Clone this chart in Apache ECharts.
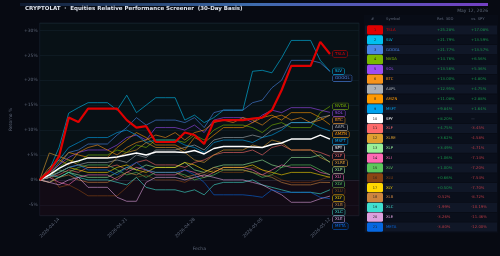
<!DOCTYPE html>
<html>
<head>
<meta charset="utf-8">
<script src="https://cdn.jsdelivr.net/npm/echarts@6/dist/echarts.min.js"></script>
<style>
  html, body { margin: 0; padding: 0; background: #070a12; }
  #chart { width: 500px; height: 256px; }
</style>
</head>
<body>
<div id="chart"></div>
<script>
// fechas (dias naturales, fines de semana con el ultimo cierre)
var dates = ['2026-04-12','2026-04-13','2026-04-14','2026-04-15','2026-04-16','2026-04-17','2026-04-18','2026-04-19',
  '2026-04-20','2026-04-21','2026-04-22','2026-04-23','2026-04-24','2026-04-25','2026-04-26',
  '2026-04-27','2026-04-28','2026-04-29','2026-04-30','2026-05-01','2026-05-02','2026-05-03',
  '2026-05-04','2026-05-05','2026-05-06','2026-05-07','2026-05-08','2026-05-09','2026-05-10',
  '2026-05-11','2026-05-12','2026-05-13','2026-05-14','2026-05-15'];

var symbols = ['TSLA','SLV','GOOGL','NVDA','SOL','BTC','AAPL','AMZN','MSFT','SPY',
  'XLF','XLRE','XLP','XLI','XLV','XLU','XLY','XLB','XLC','XLE','META'];
var colors = ['#e00000','#00c0f0','#4a86e8','#7ab800','#9d4cf5','#f7931a','#aab0b6','#ff9900','#00a4ef','#ffffff',
  '#ff6b6b','#e0a030','#98f098','#ff69b4','#5cc85c','#8b4513','#ffd700','#cd853f','#40e0d0','#dda0dd','#0668e1'];

// rendimiento acumulado (%) por simbolo
var tsla  = [0,1.7,4.7,12.5,11.6,14.3,14.3,14.3,14.3,12.0,10.5,10.8,7.6,7.6,7.6,9.5,9.0,7.2,11.8,12.0,12.0,12.0,12.3,12.5,14.0,18.0,22.9,22.9,22.9,27.7,25.28];
var slv   = [0,2.0,6.5,13.4,14.5,15.5,15.5,15.5,14.0,17.0,13.5,15.0,16.5,16.5,16.5,12.0,13.0,11.5,12.5,14.0,14.0,14.0,21.8,22.0,21.5,24.5,28.0,28.0,28.0,24.0,21.79];
var googl = [0,1.0,3.0,5.5,6.0,7.2,7.2,7.2,9.0,10.5,12.5,11.0,12.0,12.0,12.0,11.5,12.5,10.5,13.5,14.0,14.0,14.0,15.5,16.0,18.5,20.0,24.0,24.0,24.0,23.5,21.77];
var nvda  = [0,0.5,2.5,4.0,3.5,5.0,5.0,5.0,6.0,5.5,7.0,6.5,8.0,8.0,8.0,7.5,9.0,8.0,10.0,11.0,11.0,11.0,10.5,9.5,11.0,11.5,10.5,10.5,10.5,13.5,14.76];
var sol   = [0,1.5,3.0,4.5,5.5,6.0,6.0,6.0,7.0,8.5,9.0,8.0,10.5,10.5,10.5,10.0,11.0,9.5,12.0,12.5,12.5,12.5,11.5,13.0,14.0,13.5,14.5,14.5,14.5,14.0,13.56];
var btc   = [0,2.5,4.0,3.0,5.5,6.5,7.0,6.0,5.0,6.5,7.5,8.0,9.0,8.5,9.5,8.0,9.5,10.0,11.5,12.0,11.5,12.5,12.0,11.0,12.5,13.0,12.0,12.5,11.5,12.0,13.00];
var aapl  = [0,0.8,1.5,2.5,3.0,3.5,3.5,3.5,4.0,3.5,5.0,4.5,6.0,6.0,6.0,6.5,7.0,6.0,8.0,8.5,8.5,8.5,9.0,8.5,10.0,10.5,11.5,11.5,11.5,12.5,12.95];
var amzn  = [0,1.0,3.5,5.5,5.0,4.5,4.5,4.5,6.5,8.0,9.5,8.5,7.0,7.0,7.0,6.0,8.5,7.5,9.0,10.5,10.5,10.5,11.5,12.5,13.0,12.0,13.5,13.5,13.5,12.5,11.08];
var msft  = [0,1.5,4.0,6.5,7.5,8.5,8.5,8.5,9.5,10.0,9.0,7.5,8.0,8.0,8.0,7.0,6.5,5.5,7.5,8.0,8.0,8.0,7.5,8.5,9.0,10.0,11.5,11.5,11.5,10.5,9.84];
var spy   = [0,1.0,2.3,3.3,3.8,4.4,4.4,4.4,4.6,5.0,5.4,5.0,5.6,5.6,5.6,5.5,5.9,5.2,6.3,6.7,6.7,6.7,6.6,6.5,7.1,7.4,8.2,8.2,8.2,9.0,8.20];
var xlf   = [0,0.5,1.0,2.0,1.5,2.5,2.5,2.5,3.0,2.0,3.5,4.0,3.0,3.0,3.0,2.5,3.5,4.0,5.0,5.5,5.5,5.5,6.0,5.0,6.5,7.0,6.0,6.0,6.0,5.5,4.75];
var xlre  = [0,5.4,4.7,4.0,3.0,2.5,2.5,2.5,4.5,5.5,6.0,7.5,6.5,6.5,6.5,5.5,4.0,3.5,5.0,6.0,6.0,6.0,7.0,6.5,8.0,7.5,6.0,6.0,6.0,4.5,3.62];
var xlp   = [0,-0.5,0.5,1.5,1.0,0.5,0.5,0.5,1.5,2.5,2.0,3.0,2.5,2.5,2.5,3.5,2.0,1.5,2.5,3.0,3.0,3.0,3.5,4.0,3.0,2.5,4.5,4.5,4.5,5.0,3.49];
var xli   = [0,0.5,-0.5,-1.0,0.5,1.0,1.0,1.0,0.0,1.5,2.5,2.0,1.0,1.0,1.0,2.0,1.5,0.5,1.5,2.5,2.5,2.5,2.0,1.0,2.0,3.0,2.5,2.5,2.5,1.5,1.06];
var xlv   = [0,1.0,2.0,1.5,2.5,3.0,3.0,3.0,2.0,1.0,1.5,0.5,1.5,1.5,1.5,1.0,0.0,0.5,1.0,2.0,2.0,2.0,1.5,0.5,1.0,2.5,3.0,3.0,3.0,2.0,1.00];
var xlu   = [0,1.5,-1.5,-1.0,-2.0,-3.2,-3.2,-3.2,-3.2,-1.5,0.5,1.0,0.0,0.0,0.0,-0.5,0.5,1.0,2.0,1.5,1.5,1.5,2.5,2.0,1.0,0.0,-0.5,-0.5,-0.5,0.0,0.66];
var xly   = [0,0.5,1.5,2.5,2.0,1.5,1.5,1.5,2.5,3.0,2.0,1.5,2.5,2.5,2.5,3.5,3.0,2.0,1.5,2.5,2.5,2.5,3.0,2.0,1.5,1.0,1.5,1.5,1.5,1.0,0.50];
var xlb   = [0,-0.5,0.5,1.0,0.0,-0.5,-0.5,-0.5,0.5,1.5,1.0,2.0,1.5,1.5,1.5,0.5,1.0,1.5,2.5,2.0,2.0,2.0,1.5,1.0,0.5,-0.5,-1.0,-1.0,-1.0,-0.5,-0.52];
var xlc   = [0,1.0,0.5,1.5,0.5,0.0,0.0,0.0,-0.5,-1.0,0.5,-1.5,-2.0,-2.0,-2.0,-2.5,-2.0,-3.0,-1.0,-0.5,-0.5,-0.5,0.0,-1.0,-1.5,-2.0,-2.5,-2.5,-2.5,-2.8,-1.99];
var xle   = [0,-0.5,-1.0,0.0,0.5,-1.5,-1.5,-1.5,-3.5,-4.3,-4.3,-0.5,0.5,0.5,0.5,0.0,0.5,1.0,0.5,0.0,0.0,0.0,-0.5,-1.0,-2.0,-3.0,-4.5,-4.5,-4.5,-3.8,-3.26];
var meta  = [0,0.5,1.5,2.5,3.0,2.0,2.0,2.0,1.0,2.5,3.5,2.0,1.5,1.5,1.5,2.0,1.0,-0.5,-3.0,-3.0,-3.0,-3.0,-3.2,-3.5,-2.0,-2.5,-2.5,-2.5,-2.5,-3.5,-3.80];
var returns = [tsla,slv,googl,nvda,sol,btc,aapl,amzn,msft,spy,xlf,xlre,xlp,xli,xlv,xlu,xly,xlb,xlc,xle,meta];

// tabla: rendimiento 30D y diferencia contra SPY
var ret30 = [25.28,21.79,21.77,14.76,13.56,13.00,12.95,11.08,9.84,8.20,4.75,3.62,3.49,1.06,1.00,0.66,0.50,-0.52,-1.99,-3.26,-3.80];
var vsSpy = [17.08,13.59,13.57,6.56,5.36,4.80,4.75,2.88,1.64,null,-3.45,-4.58,-4.71,-7.14,-7.20,-7.54,-7.70,-8.72,-10.19,-11.46,-12.00];

var yMin = -7.2, yMax = 31.5;
var FONT = 'DejaVu Sans';
var GREEN = '#17924a', RED = '#b83a44', MUTED = '#5d6678';

function pct(v) {
  return (v > 0 ? '+' : '') + v.toFixed(2) + '%';
}

var lineSeries = returns.map(function (vals, i) {
  var s = {
    name: symbols[i],
    type: 'line',
    xAxisIndex: 0,
    yAxisIndex: 0,
    data: vals,
    symbol: 'none',
    z: i === 0 ? 10 : (i === 9 ? 9 : 3),
    lineStyle: {
      color: colors[i],
      width: i === 0 ? 2.2 : (i === 9 ? 1.4 : 0.8),
      opacity: i === 0 || i === 9 ? 1 : 0.75
    },
    endLabel: {
      show: true,
      formatter: '{a}',
      color: colors[i],
      fontFamily: FONT,
      fontSize: 4,
      backgroundColor: '#0b0f1a',
      borderColor: colors[i],
      borderWidth: 0.5,
      borderRadius: 1,
      padding: [1, 2],
      distance: 3
    },
    labelLayout: { moveOverlap: 'shiftY' },
    emphasis: { disabled: true },
    silent: true
  };
  if (i === 0) {
    s.markArea = {
      silent: true,
      data: [
        [{ yAxis: 0, itemStyle: { color: 'rgba(20,70,60,0.12)' } }, { yAxis: yMax }],
        [{ yAxis: yMin, itemStyle: { color: 'rgba(80,20,35,0.16)' } }, { yAxis: 0 }]
      ]
    };
  }
  return s;
});

var rowIdx = symbols.map(function (s, i) { return [0, i]; });

function renderRow(params, api) {
  var i = params.dataIndex;
  var c = api.coord([0, i]);
  var h = api.size([0, 1])[1];
  var w = api.size([132, 0])[0];
  var x0 = c[0], y0 = c[1] - h / 2, yc = c[1];
  var rel = vsSpy[i];
  return {
    type: 'group',
    children: [
      { type: 'rect', shape: { x: x0, y: y0 + 0.4, width: w, height: h - 0.8 },
        style: { fill: i % 2 === 0 ? '#101727' : '#0a0f1b' } },
      { type: 'rect', shape: { x: x0 + 2, y: y0 + 0.3, width: 16, height: h - 0.6, r: 1.5 },
        style: { fill: colors[i] } },
      { type: 'text', style: { x: x0 + 10, y: yc, text: String(i + 1), fill: '#222',
        font: '3.5px ' + FONT, align: 'center', verticalAlign: 'middle' } },
      { type: 'text', style: { x: x0 + 21, y: yc, text: symbols[i], fill: colors[i],
        font: '3.8px ' + FONT, verticalAlign: 'middle' } },
      { type: 'text', style: { x: x0 + 72, y: yc, text: pct(ret30[i]), fill: ret30[i] >= 0 ? GREEN : RED,
        font: '3.8px ' + FONT, verticalAlign: 'middle' } },
      { type: 'text', style: { x: x0 + 106, y: yc, text: rel === null ? '—' : pct(rel),
        fill: rel === null ? MUTED : (rel >= 0 ? GREEN : RED),
        font: '3.8px ' + FONT, verticalAlign: 'middle' } }
    ]
  };
}

var chart = echarts.init(document.getElementById('chart'), null, { renderer: 'canvas' });
chart.setOption({
  backgroundColor: '#070a12',
  animation: false,
  textStyle: { fontFamily: FONT },
  title: [
    { text: 'CRYPTOLAT  ·  Equities Relative Performance Screener  (30-Day Basis)', left: 25, top: 6, padding: 0,
      textStyle: { color: '#dfe4ee', fontSize: 5.5, fontWeight: 'bold', fontFamily: FONT } },
    { text: 'May 12, 2026', right: 12, top: 8, padding: 0,
      textStyle: { color: MUTED, fontSize: 4.5, fontWeight: 'normal', fontFamily: FONT } }
  ],
  graphic: [
    { type: 'rect', left: 20, top: 3, shape: { width: 468, height: 3 },
      style: { fill: new echarts.graphic.LinearGradient(0, 0, 1, 0, [
        { offset: 0, color: '#0e1a30' }, { offset: 0.5, color: '#3e6cae' }, { offset: 1, color: '#7440c4' }]) } },
    { type: 'rect', left: 364, top: 15, shape: { width: 134, height: 218 }, style: { fill: '#080c16' }, z: -1 },
    { type: 'text', left: 371, top: 17, style: { text: '#', fill: MUTED, font: '3.8px ' + FONT } },
    { type: 'text', left: 386, top: 17, style: { text: 'Symbol', fill: MUTED, font: '3.8px ' + FONT } },
    { type: 'text', left: 437, top: 17, style: { text: 'Ret. 30D', fill: MUTED, font: '3.8px ' + FONT } },
    { type: 'text', left: 471, top: 17, style: { text: 'vs. SPY', fill: MUTED, font: '3.8px ' + FONT } }
  ],
  grid: [
    { left: 19, right: 141, top: 23, bottom: 25, show: true, borderColor: '#1a2230', borderWidth: 0.6, backgroundColor: 'transparent' },
    { left: 365, width: 132, top: 25, height: 207 }
  ],
  xAxis: [
    {
      type: 'category', gridIndex: 0, data: dates, boundaryGap: false,
      name: 'Fecha', nameLocation: 'middle', nameGap: 19,
      nameTextStyle: { color: MUTED, fontSize: 4.5 },
      axisLine: { lineStyle: { color: '#222b3a', width: 0.6 } },
      axisTick: { show: false },
      axisLabel: {
        color: MUTED, fontSize: 4.5, rotate: 45, margin: 3,
        interval: function (i) { return i >= 2 && i <= 30 && (i - 2) % 7 === 0; }
      },
      splitLine: { show: false }
    },
    { type: 'value', gridIndex: 1, min: 0, max: 132, show: false }
  ],
  yAxis: [
    {
      type: 'value', gridIndex: 0, min: yMin, max: yMax, splitNumber: 8,
      name: 'Retorno %', nameLocation: 'middle', nameGap: 16,
      nameTextStyle: { color: MUTED, fontSize: 4.5 },
      axisLine: { show: false }, axisTick: { show: false },
      axisLabel: {
        color: MUTED, fontSize: 4.5, margin: 2, showMinLabel: false, showMaxLabel: false,
        formatter: function (v) { return (v > 0 ? '+' : '') + v + '%'; }
      },
      splitLine: { lineStyle: { color: '#141b28', width: 0.6 } }
    },
    { type: 'category', gridIndex: 1, data: symbols, inverse: true, show: false }
  ],
  series: lineSeries.concat([{
    type: 'custom', xAxisIndex: 1, yAxisIndex: 1, data: rowIdx,
    renderItem: renderRow, silent: true, clip: false
  }])
});
</script>
</body>
</html>
